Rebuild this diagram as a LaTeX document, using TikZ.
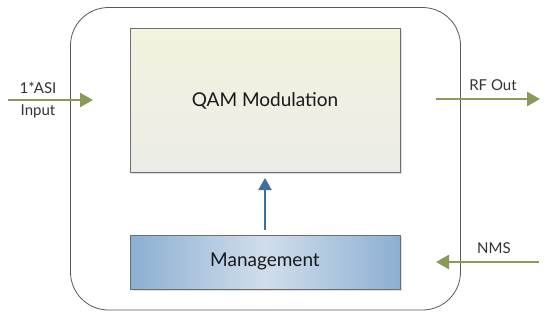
\documentclass[tikz,border=0pt]{standalone}
\usepackage{fontspec}
\setmainfont{Lato}
\usetikzlibrary{arrows.meta,shadows}
\definecolor{arrgreen}{HTML}{8A9B58}
\definecolor{arrblue}{HTML}{3F6F9B}
\definecolor{boxedge}{HTML}{6E6E6E}
\definecolor{txtgray}{HTML}{333333}
\tikzset{
  blockbox/.style={draw=boxedge, line width=0.7pt, inner sep=0pt,
    drop shadow={shadow xshift=1.5pt, shadow yshift=-1.5pt, opacity=0.25, fill=gray}},
  greenarrow/.style={draw=arrgreen, line width=2.6pt,
    -{Triangle[width=14pt,length=13pt]}},
  bluearrow/.style={draw=arrblue, line width=2pt,
    -{Triangle[width=13pt,length=12pt]}},
  lbl/.style={font=\fontsize{15}{17}\selectfont, text=txtgray, inner sep=0pt}
}
\begin{document}
\begin{tikzpicture}[x=1pt,y=-1pt]
\useasboundingbox (0,0) rectangle (550,319);
\fill[white] (0,0) rectangle (550,319);
% outer frame
\draw[draw=black!65, line width=0.8pt, rounded corners=38pt] (70.5,7.5) rectangle (460.5,310);
% QAM box
\node[blockbox, minimum width=270pt, minimum height=144pt, anchor=north west,
  top color={rgb,255:red,243;green,242;blue,222}, bottom color={rgb,255:red,236;green,236;blue,232}]
  (qam) at (130,28) {};
\node[font=\fontsize{19}{22}\selectfont, text=black!90] (qamt) at (265,101) {QAM Modulation};
% Management box
\node[blockbox, minimum width=270pt, minimum height=54pt, anchor=north west,
  left color={rgb,255:red,140;green,175;blue,210},
  right color={rgb,255:red,140;green,175;blue,210},
  middle color={rgb,255:red,208;green,222;blue,235}]
  (mgmt) at (130,235) {};
\node[font=\fontsize{19}{22}\selectfont, text=black!90] (mgmtt) at (265,261) {Management};
% blue arrow
\coordinate (bstart) at (265,230);
\coordinate (bend) at (265,178);
\draw[bluearrow] (bstart) -- (bend);
% input arrow
\coordinate (inA) at (8,100);
\coordinate (inB) at (93,100);
\draw[greenarrow] (inA) -- (inB);
\node[lbl] (asi) at (38,88) {1*ASI};
\node[lbl] (inp) at (38,111) {Input};
% RF out
\coordinate (rfA) at (436,99);
\coordinate (rfB) at (540,99);
\draw[greenarrow] (rfA) -- (rfB);
\node[lbl] (rf) at (493,85) {RF Out};
% NMS
\coordinate (nmsA) at (539,262);
\coordinate (nmsB) at (436,262);
\draw[greenarrow] (nmsA) -- (nmsB);
\node[lbl] (nms) at (494,248) {NMS};
\end{tikzpicture}
\end{document}
